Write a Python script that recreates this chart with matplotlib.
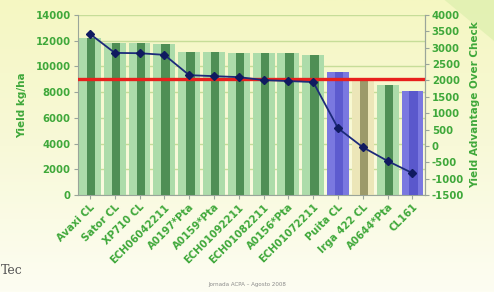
"""
Yield trial chart: bars = yield (kg/ha), line = yield advantage over check.
"""
import numpy as np
import matplotlib.pyplot as plt
import matplotlib as mpl
from matplotlib.colors import LinearSegmentedColormap

mpl.rcParams.update({
    "font.family": "DejaVu Sans",
    "font.size": 7,
    "axes.unicode_minus": False,
})

varieties = ["Avaxi CL", "Sator CL", "XP710 CL", "ECH06042211", "A0197*Pta",
             "A0159*Pta", "ECH01092211", "ECH01082211", "A0156*Pta",
             "ECH01072211", "Puita CL", "Irga 422 CL", "A0644*Pta", "CL161"]
yield_kg = [12200, 11800, 11800, 11750, 11150, 11100, 11050, 11050, 11050,
            10900, 9550, 8950, 8550, 8100]
advantage = [3420, 2840, 2830, 2780, 2160, 2130, 2100, 2010, 1980,
             1950, 540, -40, -460, -830]
check_yield = 9000
left_ticks = list(range(0, 14001, 2000))
right_ticks = list(range(-1500, 4001, 500))

GREEN_TXT = "#3fa83a"
# outer / inner colours per bar
outer = ["#addcaa"] * 10 + ["#7a78e0", "#ece6b8", "#addcaa", "#7a78e0"]
inner = ["#4f8f55"] * 10 + ["#5d5bcf", "#9c9a6a", "#4f8f55", "#5a58cc"]

fig = plt.figure(figsize=(4.94, 2.92), dpi=100)

# background gradient
bg = fig.add_axes([0, 0, 1, 1], zorder=-10)
grad = np.linspace(0, 1, 256).reshape(-1, 1)
cmap = LinearSegmentedColormap.from_list("bg", ["#f5f7c2", "#f8f9d8", "#fdfdf2"])
bg.imshow(grad, aspect="auto", cmap=cmap, extent=[0, 1, 0, 1])
# light green swoosh, top right
bg.fill([0.84, 1.0, 1.0, 0.90], [1.0, 1.0, 0.86, 1.0], color="#dff0b0",
        alpha=0.8, lw=0)
bg.set_xlim(0, 1)
bg.set_ylim(0, 1)
bg.axis("off")

ax = fig.add_axes([0.157, 0.332, 0.703, 0.617])
ax.set_facecolor("none")
x = np.arange(len(varieties))

ax.bar(x, yield_kg, width=0.88, color=outer, zorder=2)
ax.bar(x + 0.05, yield_kg, width=0.34, color=inner, zorder=3)
ax.set_ylim(0, 14000)
ax.set_xlim(-0.5, len(varieties) - 0.5)
ax.set_yticks(left_ticks)
ax.yaxis.grid(True, color="#c6dd98", lw=1.0, zorder=0)
ax.set_axisbelow(True)
ax.axhline(check_yield, color="#e8201c", lw=2.4, zorder=6)

ax.set_xticks(x)
ax.set_xticklabels(varieties, rotation=45, ha="right", rotation_mode="anchor",
                   color=GREEN_TXT, fontweight="bold", fontsize=7.3)
ax.tick_params(axis="x", length=3, color="#9aa59a", pad=2)
ax.tick_params(axis="y", length=3, color="#9aa59a", labelcolor=GREEN_TXT,
               labelsize=7.3, pad=2)
for t in ax.get_yticklabels():
    t.set_fontweight("bold")
ax.set_ylabel("Yield kg/ha", color=GREEN_TXT, fontweight="bold", fontsize=7.5,
              labelpad=6)
ax.spines["top"].set_visible(False)
for s in ["left", "bottom", "right"]:
    ax.spines[s].set_color("#9aa59a")

ax2 = ax.twinx()
ax2.plot(x, advantage, color="#1c2a7a", lw=1.3, marker="D", markersize=4,
         markerfacecolor="#101a60", markeredgecolor="#101a60", zorder=7)
ax2.set_ylim(-1500, 4000)
ax2.set_yticks(right_ticks)
ax2.tick_params(axis="y", length=3, color="#9aa59a", labelcolor=GREEN_TXT,
                labelsize=7.3, pad=2)
for t in ax2.get_yticklabels():
    t.set_fontweight("bold")
ax2.set_ylabel("Yield Advantage Over Check", color=GREEN_TXT,
               fontweight="bold", fontsize=7.5, labelpad=4)
ax2.spines["top"].set_visible(False)
ax2.spines["right"].set_color("#9aa59a")
ax2.spines["left"].set_visible(False)
ax2.spines["bottom"].set_visible(False)

fig.text(0.002, 0.06, "Tec", fontsize=9, color="#555555", family="serif")
fig.text(0.5, 0.022, "Jornada ACPA \u2013 Agosto 2008", fontsize=4,
         color="#8a8a8a", ha="center")

fig.savefig("out.png", dpi=100)
